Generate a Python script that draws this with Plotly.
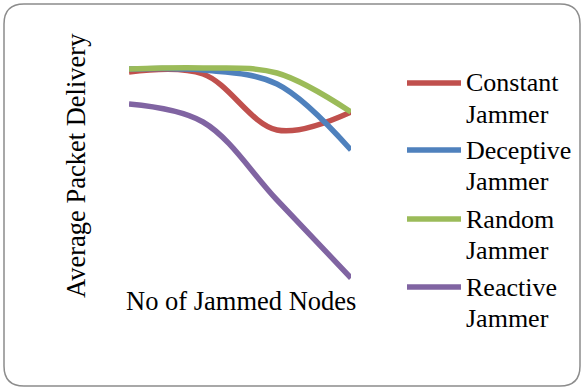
import plotly.graph_objects as go

# Number of jammed nodes (category positions) and packet delivery per jammer type
nodes = [1, 2, 3, 4]
constant_jammer = [87.2, 86.4, 64.0, 71.2]
deceptive_jammer = [88.4, 88.0, 82.4, 56.0]
random_jammer = [88.4, 88.8, 86.8, 71.2]
reactive_jammer = [74.4, 67.2, 36.0, 4.8]

series_names = ["Constant Jammer", "Deceptive Jammer", "Random Jammer", "Reactive Jammer"]
series_values = [constant_jammer, deceptive_jammer, random_jammer, reactive_jammer]
series_colors = ["#C0504D", "#4F81BD", "#9BBB59", "#8064A2"]

W, H = 584, 390
L, R, T, B = 129, 233, 40, 100
PW, PH = W - L - R, H - T - B
FONT = "Liberation Serif"


def px(x):
    return (x - L) / PW


def py(y):
    return 1 - (y - T) / PH


fig = go.Figure()
for name, vals, color in zip(series_names, series_values, series_colors):
    fig.add_trace(go.Scatter(
        x=nodes, y=vals, name=name, mode="lines",
        line=dict(color=color, width=5.5, shape="spline", smoothing=1),
        showlegend=False, hoverinfo="skip",
    ))

shapes = []
annotations = []

# Rounded outer frame of the chart area
x0, y0, x1, y1, r = 4, 4, 580, 386, 20
frame = (
    f"M {px(x0 + r)},{py(y0)} L {px(x1 - r)},{py(y0)} "
    f"Q {px(x1)},{py(y0)} {px(x1)},{py(y0 + r)} "
    f"L {px(x1)},{py(y1 - r)} Q {px(x1)},{py(y1)} {px(x1 - r)},{py(y1)} "
    f"L {px(x0 + r)},{py(y1)} Q {px(x0)},{py(y1)} {px(x0)},{py(y1 - r)} "
    f"L {px(x0)},{py(y0 + r)} Q {px(x0)},{py(y0)} {px(x0 + r)},{py(y0)} Z"
)
shapes.append(dict(type="path", xref="paper", yref="paper", path=frame,
                   line=dict(color="#8C8C8C", width=1.5), layer="below"))

# Legend: swatch line plus two-line label per series
row_y = [83, 150, 219, 287]
for name, color, yy in zip(series_names, series_colors, row_y):
    shapes.append(dict(type="line", xref="paper", yref="paper",
                       x0=px(407), x1=px(461), y0=py(yy), y1=py(yy),
                       line=dict(color=color, width=5.5)))
    first, second = name.split(" ")
    for k, txt in enumerate([first, second]):
        annotations.append(dict(
            text=txt, xref="paper", yref="paper", x=px(464), y=py(yy + 31 * k),
            xanchor="left", yanchor="middle", showarrow=False,
            font=dict(family=FONT, size=26, color="black"),
        ))

# Axis titles
annotations.append(dict(text="Average Packet Delivery", xref="paper", yref="paper",
                        x=px(76), y=py(166), textangle=-90, showarrow=False,
                        xanchor="center", yanchor="middle",
                        font=dict(family=FONT, size=26.5, color="black")))
annotations.append(dict(text="No of Jammed Nodes", xref="paper", yref="paper",
                        x=px(240.5), y=py(301), showarrow=False,
                        xanchor="center", yanchor="middle",
                        font=dict(family=FONT, size=26.5, color="black")))

fig.update_layout(
    width=W, height=H,
    margin=dict(l=L, r=R, t=T, b=B),
    paper_bgcolor="white", plot_bgcolor="white",
    xaxis=dict(range=[1, 4], visible=False),
    yaxis=dict(range=[0, 100], visible=False),
    shapes=shapes, annotations=annotations,
    showlegend=False,
)

fig.write_html("out.html")
